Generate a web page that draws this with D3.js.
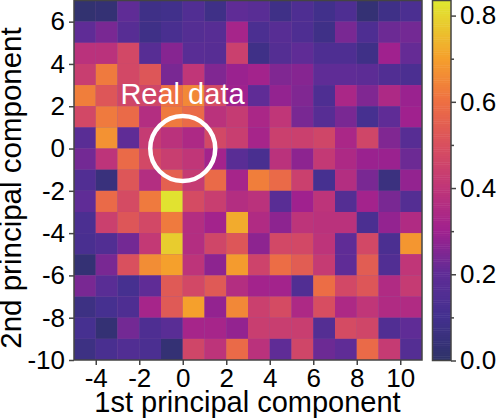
<!DOCTYPE html>
<html>
<head>
<meta charset="utf-8">
<script src="https://cdn.jsdelivr.net/npm/d3@7/dist/d3.min.js"></script>
<style>
body { margin: 0; background: #fff; }
text { font-family: "Liberation Sans", Arial, sans-serif; fill: #000; }
</style>
</head>
<body>
<svg id="chart" width="498" height="420"></svg>
<script>
// rows go from the top (y 6..7) to the bottom (y -10..-9)
let row_tops = [7, 6, 5, 4, 3, 2, 1, 0, -1, -2, -3, -4, -5, -6, -7, -8, -9];
let col_lefts = [-5, -4, -3, -2, -1, 0, 1, 2, 3, 4, 5, 6, 7, 8, 9, 10];
let values = [
    [.02, .03, .20, .08, .09, .15, .08, .20, .18, .08, .14, .09, .14, .03, .08, .13],
    [.20, .24, .17, .08, .12, .16, .17, .32, .13, .17, .14, .08, .24, .14, .22, .23],
    [.38, .38, .47, .17, .26, .18, .17, .44, .08, .16, .20, .14, .14, .08, .30, .21],
    [.43, .62, .47, .52, .24, .40, .25, .29, .31, .25, .26, .20, .20, .19, .15, .13],
    [.63, .52, .46, .46, .60, .65, .48, .30, .20, .28, .25, .14, .33, .25, .34, .29],
    [.47, .62, .58, .36, .62, .58, .38, .42, .33, .40, .24, .17, .24, .11, .20, .30],
    [.18, .67, .20, .42, .38, .34, .47, .43, .32, .44, .44, .46, .33, .46, .25, .17],
    [.23, .39, .58, .47, .43, .40, .31, .18, .12, .38, .27, .41, .34, .29, .29, .22],
    [.15, .05, .52, .36, .55, .42, .58, .32, .63, .58, .44, .11, .36, .24, .06, .28],
    [.20, .58, .48, .62, .82, .48, .43, .36, .38, .18, .30, .39, .16, .31, .24, .16],
    [.13, .44, .52, .47, .62, .36, .31, .72, .35, .27, .39, .38, .38, .13, .28, .35],
    [.12, .15, .23, .41, .78, .36, .46, .52, .27, .47, .47, .39, .20, .47, .13, .68],
    [.03, .24, .50, .66, .70, .39, .27, .69, .45, .59, .54, .42, .20, .54, .15, .40],
    [.24, .18, .11, .20, .53, .47, .53, .36, .31, .31, .15, .59, .47, .52, .35, .42],
    [.07, .11, .14, .32, .53, .70, .28, .65, .44, .48, .34, .49, .34, .40, .35, .35],
    [.11, .03, .23, .14, .18, .32, .32, .28, .43, .43, .43, .16, .48, .46, .15, .20],
    [.07, .12, .15, .13, .03, .46, .39, .58, .38, .20, .46, .22, .20, .58, .42, .16]
];
let x_ticks = [-4, -2, 0, 2, 4, 6, 8, 10];
let y_ticks = [-10, -8, -6, -4, -2, 0, 2, 4, 6];
let cbar_ticks = [0, 0.2, 0.4, 0.6, 0.8];
let cbar_minor = [0.1, 0.3, 0.5, 0.7];
let color_stops = [0, .1, .2, .3, .4, .5, .6, .7, .835];
let color_hex = ['#2e3268', '#43308f', '#5f2c96', '#a0218e', '#c03678', '#d9505e', '#ee7042', '#f5a02c', '#dfea30'];

let svg = d3.select('#chart');
let axis_color = '#444';

let x = d3.scaleLinear().domain([-5, 11]).range([74, 422]);
let y = d3.scaleLinear().domain([-10, 7]).range([360, 0.5]);
let color = d3.scaleLinear().domain(color_stops).range(color_hex).interpolate(d3.interpolateRgb);

// backing so the seams between cells stay faint
svg.append('rect')
    .attr('x', x(-5)).attr('y', y(7))
    .attr('width', x(11) - x(-5)).attr('height', y(-10) - y(7))
    .attr('fill', '#8f5f9f');

// heatmap cells
values.forEach(function(row, i){
    svg.append('g').selectAll('rect')
        .data(row)
        .enter()
        .append('rect')
        .attr('x', function(d, j){ return x(col_lefts[j]); })
        .attr('y', y(row_tops[i]))
        .attr('width', x(1) - x(0))
        .attr('height', y(0) - y(1))
        .attr('fill', function(d){ return color(d); });
});

// frame
svg.append('rect')
    .attr('x', x(-5)).attr('y', y(7))
    .attr('width', x(11) - x(-5)).attr('height', y(-10) - y(7))
    .attr('fill', 'none').attr('stroke', axis_color).attr('stroke-width', 1.5);

function styleAxis(g, size){
    g.select('.domain').remove();
    g.selectAll('line').attr('stroke', axis_color).attr('stroke-width', 1.5);
    g.selectAll('text').style('font-size', size + 'px').attr('fill', '#000');
}

let xAxis = d3.axisBottom(x).tickValues(x_ticks).tickSize(5).tickPadding(4)
    .tickFormat(d3.format('d'));
svg.append('g').attr('transform', 'translate(0,' + y(-10) + ')').call(xAxis).call(styleAxis, 26);

let yAxis = d3.axisLeft(y).tickValues(y_ticks).tickSize(5).tickPadding(4)
    .tickFormat(d3.format('d'));
svg.append('g').attr('transform', 'translate(' + x(-5) + ',0)').call(yAxis).call(styleAxis, 26);

// the minus signs in the reference are plain short hyphens
svg.selectAll('g.tick text').text(function(){ return d3.select(this).text().replace('\u2212', '-'); });

svg.append('text')
    .attr('x', 247.5).attr('y', 412)
    .attr('text-anchor', 'middle')
    .style('font-size', '29px')
    .text('1st principal component');

svg.append('text')
    .attr('transform', 'translate(21,188) rotate(-90)')
    .attr('text-anchor', 'middle')
    .style('font-size', '29.5px')
    .text('2nd principal component');

// real data marker
svg.append('circle')
    .attr('cx', x(0)).attr('cy', y(0))
    .attr('r', 32.5)
    .attr('fill', 'none').attr('stroke', '#fff').attr('stroke-width', 4.5);

svg.append('text')
    .attr('x', 182.5).attr('y', 104)
    .attr('text-anchor', 'middle')
    .style('font-size', '29px')
    .style('fill', '#fff')
    .text('Real data');

// colorbar
let cbar_scale = d3.scaleLinear().domain([0, 0.835]).range([360.5, 0.5]);
let cbar_steps = d3.range(0, 0.835, 0.005);
svg.append('g').selectAll('rect')
    .data(cbar_steps)
    .enter()
    .append('rect')
    .attr('x', 432.5)
    .attr('width', 18.5)
    .attr('y', function(d){ return cbar_scale(d + 0.005); })
    .attr('height', function(d){ return cbar_scale(d) - cbar_scale(d + 0.005) + 0.5; })
    .attr('fill', function(d){ return color(d); });

svg.append('rect')
    .attr('x', 432.5).attr('y', cbar_scale(0.835))
    .attr('width', 18.5).attr('height', cbar_scale(0) - cbar_scale(0.835))
    .attr('fill', 'none').attr('stroke', axis_color).attr('stroke-width', 1.5);

let cbarAxis = d3.axisRight(cbar_scale).tickValues(cbar_ticks).tickSize(5).tickPadding(4)
    .tickFormat(d3.format('.1f'));
svg.append('g').attr('transform', 'translate(451,0)').call(cbarAxis).call(styleAxis, 26);

let cbarMinor = d3.axisRight(cbar_scale).tickValues(cbar_minor).tickSize(3).tickFormat('');
svg.append('g').attr('transform', 'translate(451,0)').call(cbarMinor).call(styleAxis, 26);
</script>
</body>
</html>
